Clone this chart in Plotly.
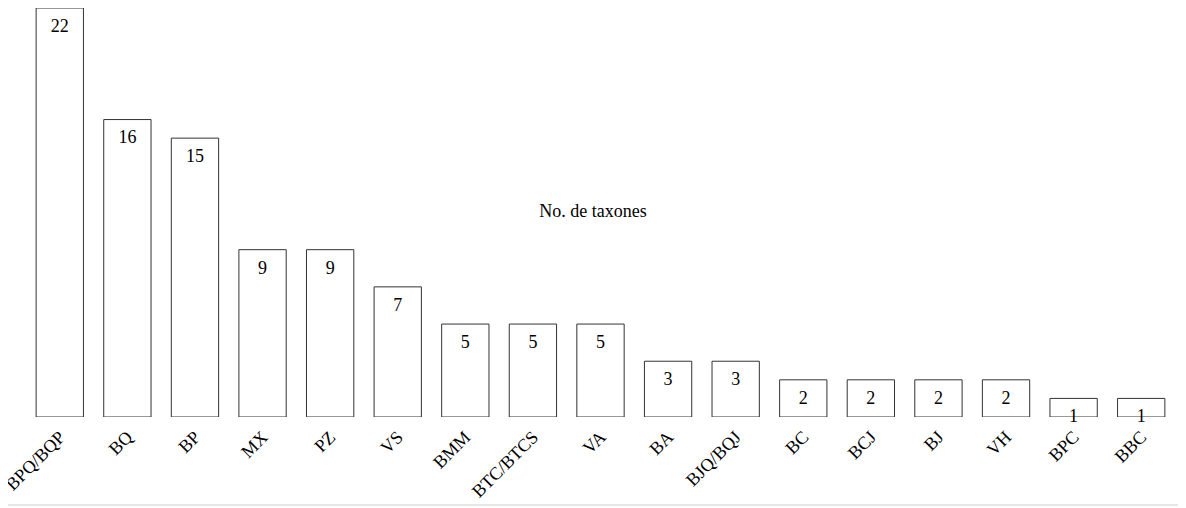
import plotly.graph_objects as go

sites = ["BPQ/BQP", "BQ", "BP", "MX", "PZ", "VS", "BMM", "BTC/BTCS", "VA",
         "BA", "BJQ/BQJ", "BC", "BCJ", "BJ", "VH", "BPC", "BBC"]
taxa = [22, 16, 15, 9, 9, 7, 5, 5, 5, 3, 3, 2, 2, 2, 2, 1, 1]
title_text = "No. de taxones"

serif = "Liberation Serif, Times New Roman, serif"

fig = go.Figure()
fig.add_trace(go.Bar(
    x=sites, y=taxa,
    marker=dict(color="white", line=dict(color="#333333", width=1)),
    width=0.7,
    showlegend=False,
    hoverinfo="x+y",
))
# value labels just below each bar top
fig.add_trace(go.Scatter(
    x=sites, y=taxa,
    mode="markers+text",
    marker=dict(size=15, opacity=0),
    text=[str(v) for v in taxa],
    textposition="bottom center",
    textfont=dict(family=serif, size=18, color="black"),
    cliponaxis=False,
    showlegend=False,
    hoverinfo="skip",
))

# page body adds an 8px offset, so the figure is a bit smaller than the window
fig.update_layout(
    width=1170, height=500,
    margin=dict(l=18, r=3, t=0, b=91),
    plot_bgcolor="white",
    paper_bgcolor="white",
    font=dict(family=serif, size=18, color="black"),
    title=dict(text=title_text, xref="container", x=0.5, xanchor="center",
               yref="container", y=1 - 203 / 500, yanchor="middle",
               font=dict(family=serif, size=18, color="black")),
    xaxis=dict(tickangle=-45, showgrid=False, showline=False, ticks="",
               range=[-0.5, len(sites) - 0.5], ticklabelstandoff=5,
               automargin=False, tickfont=dict(family=serif, size=18)),
    yaxis=dict(range=[0, 22], visible=False, showgrid=False, automargin=False),
    shapes=[dict(type="line", xref="paper", yref="paper", x0=-0.03, x1=1.02,
                 y0=-0.215, y1=-0.215, line=dict(color="#e6e6e6", width=2))],
)

fig.write_html("out.html")
